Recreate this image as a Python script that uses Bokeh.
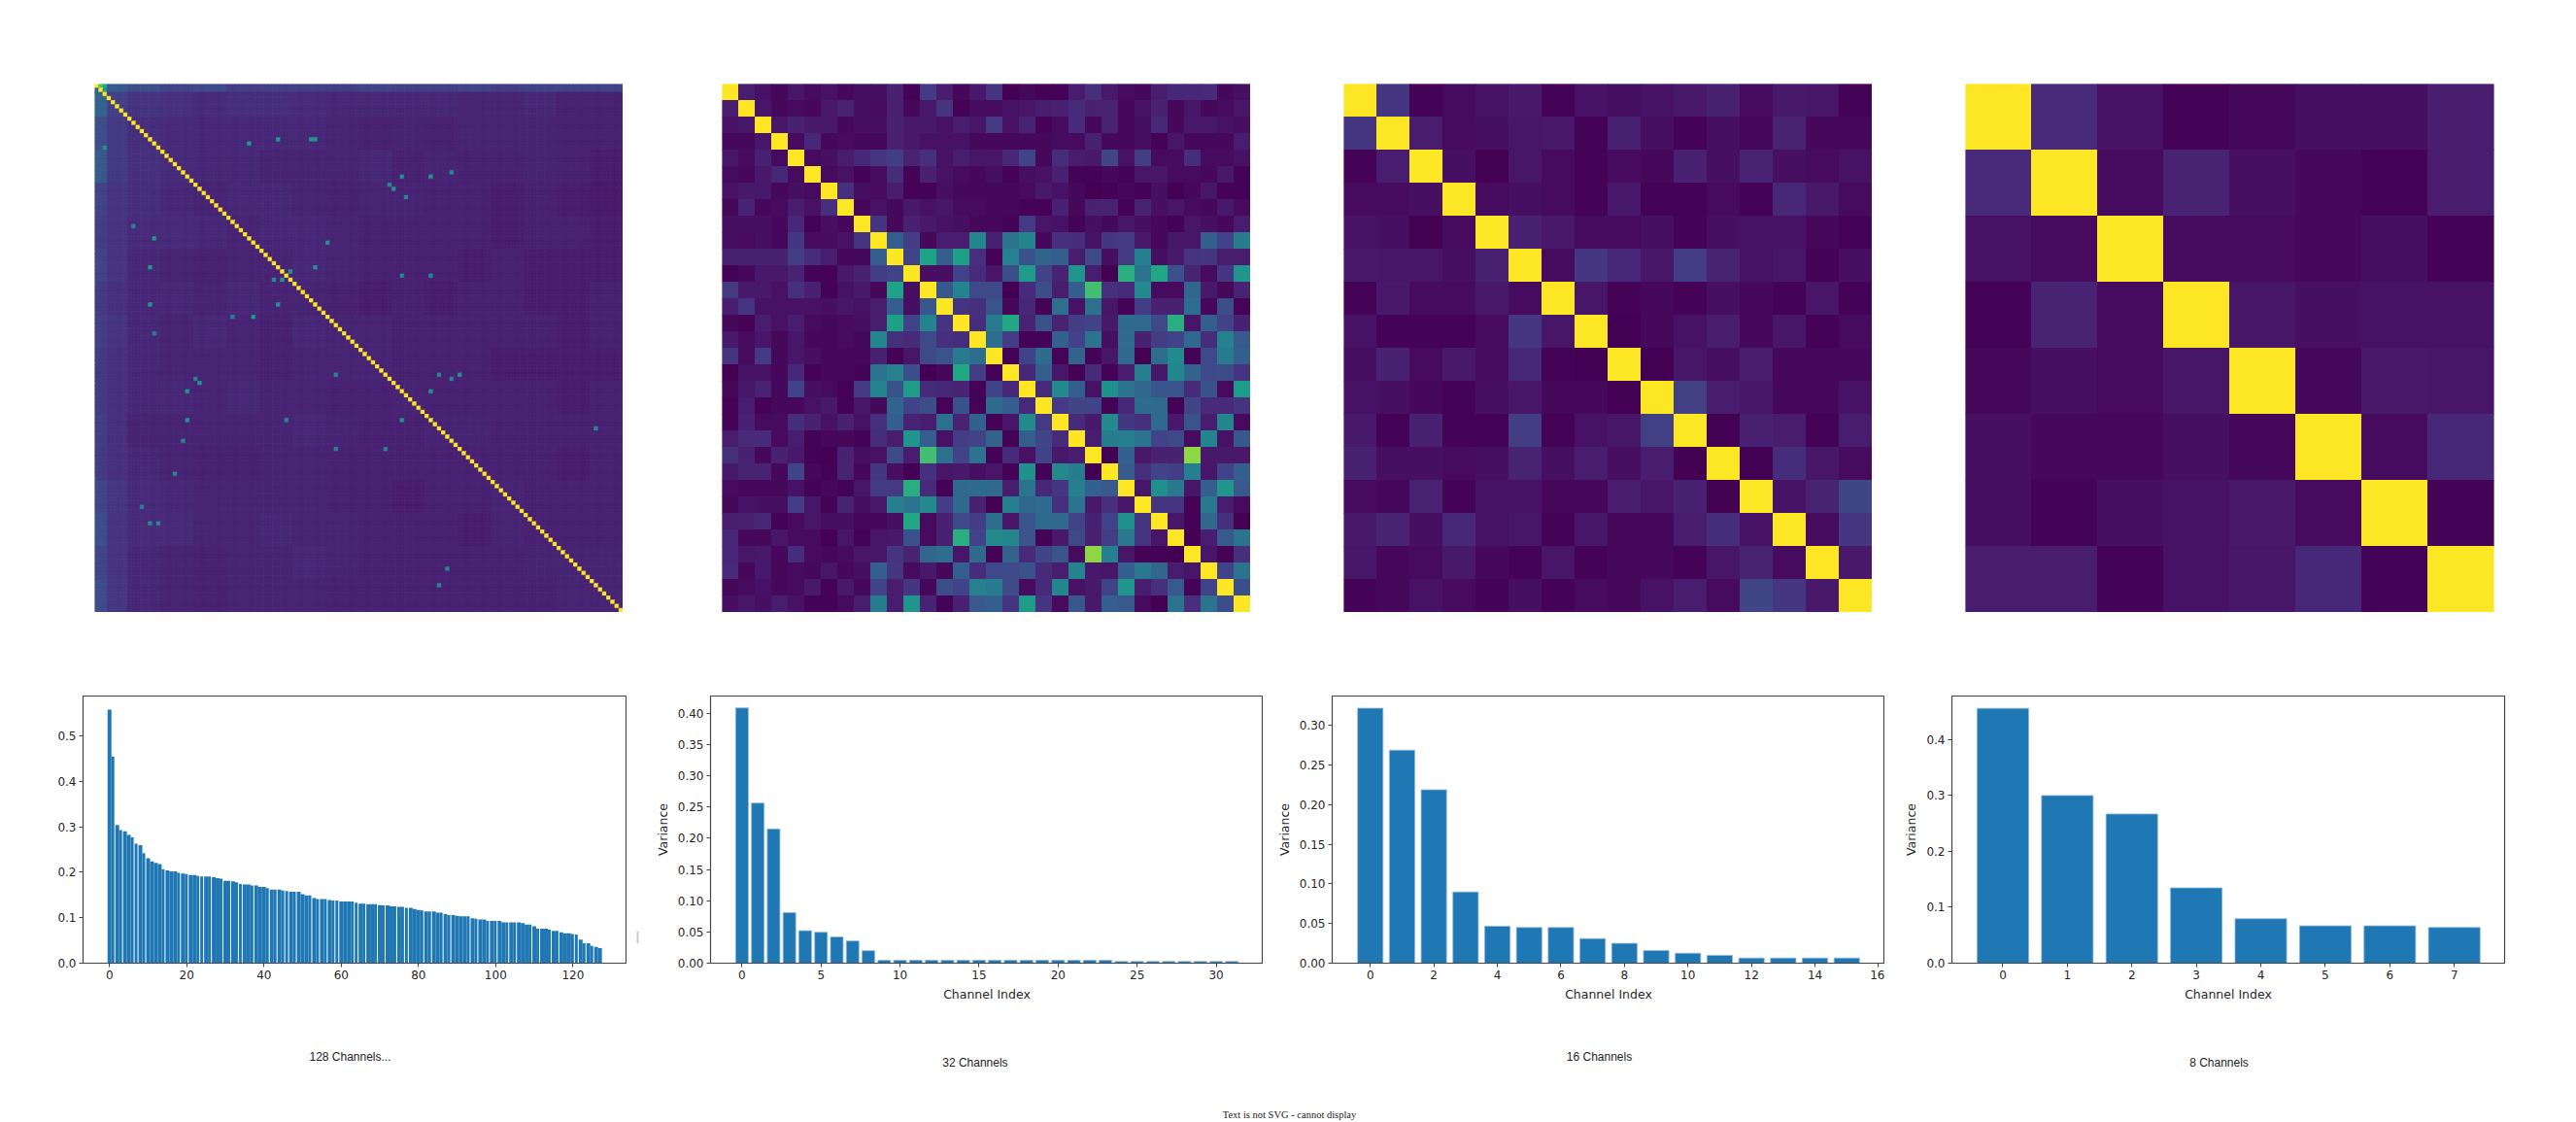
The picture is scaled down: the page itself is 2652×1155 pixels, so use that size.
from bokeh.embed import file_html
from bokeh.resources import INLINE
from bokeh.layouts import row, column
from bokeh.plotting import figure
from bokeh.core.properties import value
from bokeh.models import (ColumnDataSource, Range1d, LinearColorMapper, FixedTicker,
                          NumeralTickFormatter)
from bokeh.palettes import Viridis256

# ---------- bar data ----------
var_128 = [.558,.455,.304,.293,.290,.282,.277,.263,.260,.242,.231,.224,.221,.218,.207,.204,
           .202,.202,.199,.197,.196,.194,.194,.192,.191,.191,.191,.189,.187,.186,.181,.181,
           .180,.178,.174,.173,.173,.171,.171,.168,.168,.165,.162,.162,.162,.160,.159,.157,
           .157,.157,.152,.149,.149,.143,.141,.141,.141,.139,.138,.138,.136,.136,.136,.136,
           .133,.131,.131,.130,.130,.130,.128,.127,.127,.125,.125,.124,.124,.122,.122,.119,
           .117,.116,.114,.114,.114,.111,.111,.108,.106,.106,.104,.103,.103,.103,.099,.098,
           .096,.096,.093,.093,.093,.093,.090,.090,.090,.090,.090,.088,.085,.085,.081,.076,
           .076,.076,.074,.071,.071,.068,.066,.066,.064,.063,.052,.044,.044,.038,.036,.033]
var_32 = [.409,.2565,.215,.081,.052,.0495,.042,.0356,.020,.0046,.0046,.0046,.0046,.0046,.0046,.0046,
          .0046,.0046,.0046,.0046,.0046,.0046,.0046,.0046,.0026,.0026,.0026,.0026,.0026,.0026,.0026,.0026]
var_16 = [.322,.269,.219,.090,.0467,.045,.045,.031,.025,.016,.0126,.0098,.0065,.0065,.0065,.0065]
var_8 = [.456,.300,.267,.1347,.0795,.0668,.0668,.0639]

captions = ["128 Channels...", "32 Channels", "16 Channels", "8 Channels"]
footer = "Text is not SVG - cannot display"

# indices of the 128-channel bars followed by a visible pale gap in the reference
gaps_128 = [1,3,6,7,9,14,18,20,23,24,26,29,31,33,34,37,41,43,45,46,48,52,54,56,58,59,63,64,66,69,71,
            74,76,77,81,83,86,88,93,95,98,100,103,105,109,111,114,116,120,121,123,125]

# ---------- correlation matrices: upper triangles, in percent, read cell by cell ----------
upper_8 = [[12,5,1,2,4,4,8],[3,10,4,2,1,8],[3,3,2,4,1],[6,4,5,5],[2,7,6],[3,11],[1]]
upper_16 = [[16,1,3,5,7,1,5,4,5,7,9,3,7,6,1],[8,3,4,6,7,1,9,4,1,4,2,10,2,2],
            [4,0,6,3,1,3,2,9,4,10,4,3,5],[3,4,3,1,7,1,1,3,1,11,7,3],[9,7,3,3,4,1,4,5,5,2,1],
            [3,16,11,6,18,10,5,6,1,4],[6,1,2,1,4,2,1,6,1],[0,2,5,8,2,6,1,3],[0,6,4,8,2,2,2],
            [19,8,6,2,2,5],[0,9,8,1,8],[0,13,6,3],[5,10,21],[3,16],[7]]
upper_32 = [
 [8,5,2,6,3,5,2,4,4,9,1,17,8,2,7,15,0,2,1,1,8,14,7,3,2,8,11,11,12,2,4],
 [6,2,3,2,7,10,4,3,9,2,7,15,1,3,3,5,6,8,9,12,9,10,2,5,9,2,6,2,3,6],
 [6,9,7,7,2,4,4,9,7,7,5,8,6,17,5,10,1,3,12,2,10,2,4,11,2,7,7,5,4],
 [3,11,2,3,2,2,9,7,5,5,5,2,2,2,2,2,3,3,9,2,2,4,1,6,2,2,2,8],
 [3,4,8,11,16,18,10,14,5,8,6,6,11,20,2,13,8,7,21,5,18,3,3,13,3,3,5],
 [3,5,1,3,13,1,9,5,3,2,4,1,4,5,9,1,1,2,1,6,6,3,3,2,7,1],
 [14,4,3,8,1,1,4,2,2,2,2,3,7,5,2,0,1,2,1,4,0,2,6,1,1],
 [2,5,2,7,5,6,3,3,2,2,1,1,9,2,9,10,1,10,4,6,3,2,7,3],
 [15,2,9,7,5,4,2,2,1,17,6,5,1,4,2,6,4,2,1,6,4,2,8],
 [30,18,2,8,8,46,9,38,45,2,14,13,5,16,17,7,2,6,6,30,20,42],
 [20,58,30,57,14,1,44,25,32,30,8,22,4,17,43,4,7,15,16,8,8],
 [4,4,20,12,6,24,55,20,10,52,8,0,63,38,60,25,10,3,16,52],
 [27,45,22,22,0,12,24,8,30,70,14,12,48,3,3,33,7,2,10],
 [15,14,26,2,11,1,37,5,37,6,1,18,9,9,36,2,24,1],
 [13,41,60,10,25,10,18,20,7,34,34,22,63,6,30,20,9],
 [36,18,1,1,31,20,38,4,35,9,18,20,34,13,44,28],
 [1,20,35,1,32,1,6,34,0,36,48,1,22,41,30],
 [11,30,6,1,12,1,8,43,6,46,32,22,23,15],
 [12,48,30,5,50,38,33,26,26,12,25,3,55],
 [17,21,20,1,11,35,34,1,21,12,12,15],
 [12,7,47,16,14,34,7,26,8,46,3],
 [8,42,43,38,20,22,3,45,5,27],
 [0,31,7,9,9,83,7,7,7],
 [28,14,20,18,43,6,20,30],
 [6,50,40,6,30,52,28],
 [15,15,1,40,8,3],
 [6,1,33,14,0],
 [0,8,28,38],
 [6,1,14],
 [20,38],
 [24]]

# 128x128: the noise cannot be read cell by cell. These are coarse tones in percent,
# estimated by eye per block of 8x8 cells, with bands for the bright top rows and left
# columns and the distinct bright cells that could be located. It is NOT per-cell data.
tone_128 = [
 [19,15,14,12,13,13,12,11,11,11,11,10,10,11,9,9],
 [17,13,12,11,11,11,11,10,9,10,9,10,10,10,9,9],
 [17,14,12,11,11,10,10,10,11,9,10,9,9,10,9,8],
 [15,13,11,10,11,11,10,9,10,10,9,9,8,9,8,7],
 [15,12,12,11,10,11,11,10,9,9,9,9,8,9,9,8],
 [15,11,10,9,10,10,11,10,9,9,9,8,9,8,8,8],
 [14,11,11,10,11,10,10,9,8,9,8,9,9,8,8,9],
 [15,11,10,11,10,9,11,10,10,9,9,9,9,9,8,9],
 [14,11,10,10,10,9,10,10,10,9,9,9,8,8,8,8],
 [14,11,11,10,11,10,10,9,9,10,9,9,9,9,8,9],
 [14,10,10,10,10,10,11,10,9,9,10,10,9,9,9,9],
 [14,11,10,9,9,10,10,9,9,9,9,9,9,9,8,9],
 [16,12,11,10,10,10,10,9,9,8,9,9,10,9,9,9],
 [15,12,12,10,10,11,10,10,9,9,9,8,10,9,9,9],
 [15,11,10,9,10,10,11,10,9,9,9,9,9,10,10,10],
 [16,11,10,9,10,10,10,9,9,9,9,9,9,9,10,10]]
top_128 = [28,24,20,22,18,19,19,18,20,19,19,20,18,20,20,20]
left_128 = [32,24,28,20,18,20,17,18,17,17,18,17,21,24,21,23]
bright_rows_128 = [0,0,1,13,14,15,13,13,22,22,21,25,24,27,38,37,34,44,44,45,47,47,46,46,
                   53,53,56,56,60,70,70,70,71,72,71,74,74,81,81,81,86,88,88,94,83,117,121,106,106,102]
bright_cols_128 = [1,2,2,44,37,2,53,52,81,74,86,72,71,75,56,14,9,13,53,47,45,43,81,74,
                   13,44,38,33,14,58,88,83,86,25,24,22,81,22,74,46,21,58,70,19,121,85,83,15,13,11]
bright_vals_128 = [72,60,55,55,55,52,52,52,52,52,48,52,48,48,52,52,48,52,52,52,52,48,48,48,
                   52,52,54,44,44,48,52,48,48,52,44,52,52,52,52,48,48,48,48,48,48,46,48,48,48,44]

# ---------- page geometry (the page origin sits at the window corner) ----------
HEAT_FRAME = 544
HEAT_LEFT = [97, 102, 96, 96]
HEAT_RIGHT = [0, 0, 0, 85]
HEAT_TOP = 86
HEAT_EDGE = [0.8, 1, 1, 1]
BAR_TOP = 86
BAR_FRAME_H = 275
BAR_BOTTOM = 59
ART_W = 13
BAR_LEFT = [85, 86 - ART_W, 71, 69]
BAR_W = [560, 569, 569, 569]
BAR_RIGHT = [0, 0, 0, 74]
XLIM = [(-6.85, 134.0), (-1.99, 32.98), (-1.2, 16.2), (-0.79, 7.78)]
YLIM = [0.588, 0.428, 0.3374, 0.478]
XTICKS = [list(range(0, 121, 20)), list(range(0, 31, 5)), list(range(0, 17, 2)), list(range(0, 8))]
YTICKS = [[0, .1, .2, .3, .4, .5], [0, .05, .1, .15, .2, .25, .3, .35, .4],
          [0, .05, .1, .15, .2, .25, .3], [0, .1, .2, .3, .4]]
YFMT = ["0.0", "0.00", "0.00", "0.0"]
CAP_X = [360, 1003.4, 1646, 2284, 1327]
CAP_Y = [1087, 1093, 1087, 1093, 1147]
CAP_FONT = ["Liberation Sans"] * 4 + ["Liberation Serif"]
CAP_SIZE = ["12px"] * 4 + ["10.5px"]
ROW2_TOP = 630
STRIP_TOP = 1050
PAGE_W = 2652
PAGE_H = 1155

mapper = LinearColorMapper(palette=Viridis256, low=0, high=1)


def full_from_upper(upper):
    n = len(upper) + 1
    m = [[1.0] * n for _ in range(n)]
    for i, r in enumerate(upper):
        for k, v in enumerate(r):
            j = i + 1 + k
            m[i][j] = m[j][i] = v / 100
    return m


def matrix_128():
    n = 128
    m = [[tone_128[i // 8][j // 8] / 100 for j in range(n)] for i in range(n)]
    for j in range(n):
        for i in range(2):
            m[i][j] = top_128[j // 8] / 100
    for i in range(n):
        for j in range(3):
            m[i][j] = left_128[i // 8] / 100
    for r, c, v in zip(bright_rows_128, bright_cols_128, bright_vals_128):
        m[r][c] = v / 100
    for i in range(n):
        m[i][i] = 1.0
    return m


def heat(m, k):
    n = len(m)
    xs, ys, vs = [], [], []
    for i in range(n):
        for j in range(n):
            xs.append(j + .5)
            ys.append(n - i - .5)
            vs.append(m[i][j])
    p = figure(x_range=Range1d(0, n), y_range=Range1d(0, n), frame_width=HEAT_FRAME,
               frame_height=HEAT_FRAME, min_border_left=HEAT_LEFT[k], min_border_right=HEAT_RIGHT[k],
               min_border_top=HEAT_TOP, min_border_bottom=0, output_backend="svg",
               toolbar_location=None, outline_line_color=None, x_axis_location=None,
               y_axis_location=None)
    p.grid.visible = False
    src = ColumnDataSource(dict(x=xs, y=ys, v=vs))
    p.rect("x", "y", width=1, height=1, source=src,
           fill_color={"field": "v", "transform": mapper},
           line_color={"field": "v", "transform": mapper}, line_width=HEAT_EDGE[k])
    return p


def bar(k, vals):
    p = figure(x_range=Range1d(*XLIM[k]), y_range=Range1d(0, YLIM[k]),
               frame_width=BAR_W[k], frame_height=BAR_FRAME_H, min_border_left=BAR_LEFT[k],
               min_border_right=BAR_RIGHT[k], min_border_top=BAR_TOP, min_border_bottom=BAR_BOTTOM,
               output_backend="svg", toolbar_location=None, outline_line_color="#444444",
               outline_line_width=1.2)
    p.grid.visible = False
    xs = list(range(len(vals)))
    if k == 0:
        rights = [i + (.25 if i in gaps_128 else .5) for i in xs]
        p.quad(left=[i - .5 for i in xs], right=rights, top=vals, bottom=0,
               fill_color="#1f77b4", line_color=None)
    else:
        p.vbar(x=xs, top=vals, width=0.8, bottom=0, fill_color="#1f77b4",
               line_color="#8db9da", line_width=0.8)
    for ax in (p.xaxis[0], p.yaxis[0]):
        ax.major_tick_in = 0
        ax.major_tick_out = 4
        ax.minor_tick_in = 0
        ax.minor_tick_out = 0
        ax.axis_line_color = "#444444"
        ax.major_tick_line_color = "#444444"
        ax.major_label_text_color = "#262626"
        ax.major_label_text_font = "DejaVu Sans"
        ax.major_label_text_font_size = "12px"
        ax.major_label_standoff = 3
        ax.axis_label_text_font = "DejaVu Sans"
        ax.axis_label_text_font_size = "12.5px"
        ax.axis_label_text_font_style = "normal"
        ax.axis_label_text_color = "#262626"
        ax.axis_label_standoff = 5
    p.xaxis[0].ticker = FixedTicker(ticks=XTICKS[k])
    p.yaxis[0].ticker = FixedTicker(ticks=YTICKS[k])
    p.yaxis[0].formatter = NumeralTickFormatter(format=YFMT[k])
    if k > 0:
        p.xaxis[0].axis_label = "Channel Index"
        p.yaxis[0].axis_label = "Variance"
    return p


h = [heat(matrix_128(), 0), heat(full_from_upper(upper_32), 1),
     heat(full_from_upper(upper_16), 2), heat(full_from_upper(upper_8), 3)]
b = [bar(k, v) for k, v in enumerate([var_128, var_32, var_16, var_8])]

# narrow column holding the small grey tick the reference shows right of the first bar panel
art = figure(x_range=Range1d(645, 645 + ART_W), y_range=Range1d(STRIP_TOP, ROW2_TOP), width=ART_W,
             height=STRIP_TOP - ROW2_TOP, min_border=0, output_backend="svg", toolbar_location=None,
             outline_line_color=None, x_axis_location=None, y_axis_location=None)
art.grid.visible = False
art.quad(left=[655], right=[657], top=[1000], bottom=[1019], fill_color="#cccccc", line_color=None)

# caption strip along the foot of the page
strip = figure(x_range=Range1d(0, PAGE_W), y_range=Range1d(PAGE_H, STRIP_TOP), width=PAGE_W,
               height=PAGE_H - STRIP_TOP, min_border=0, output_backend="svg", toolbar_location=None,
               outline_line_color=None, x_axis_location=None, y_axis_location=None)
strip.grid.visible = False
for txt, cx, cy, font, size in zip(captions + [footer], CAP_X, CAP_Y, CAP_FONT, CAP_SIZE):
    strip.text(x=[cx], y=[cy], text=[txt], text_font=value(font), text_font_size=size,
               text_color="#222222", text_align="center", text_baseline="middle")

page = column(row(*h, spacing=0), row(b[0], art, b[1], b[2], b[3], spacing=0), strip, spacing=0)
open("out.html", "w").write(file_html(page, INLINE))
